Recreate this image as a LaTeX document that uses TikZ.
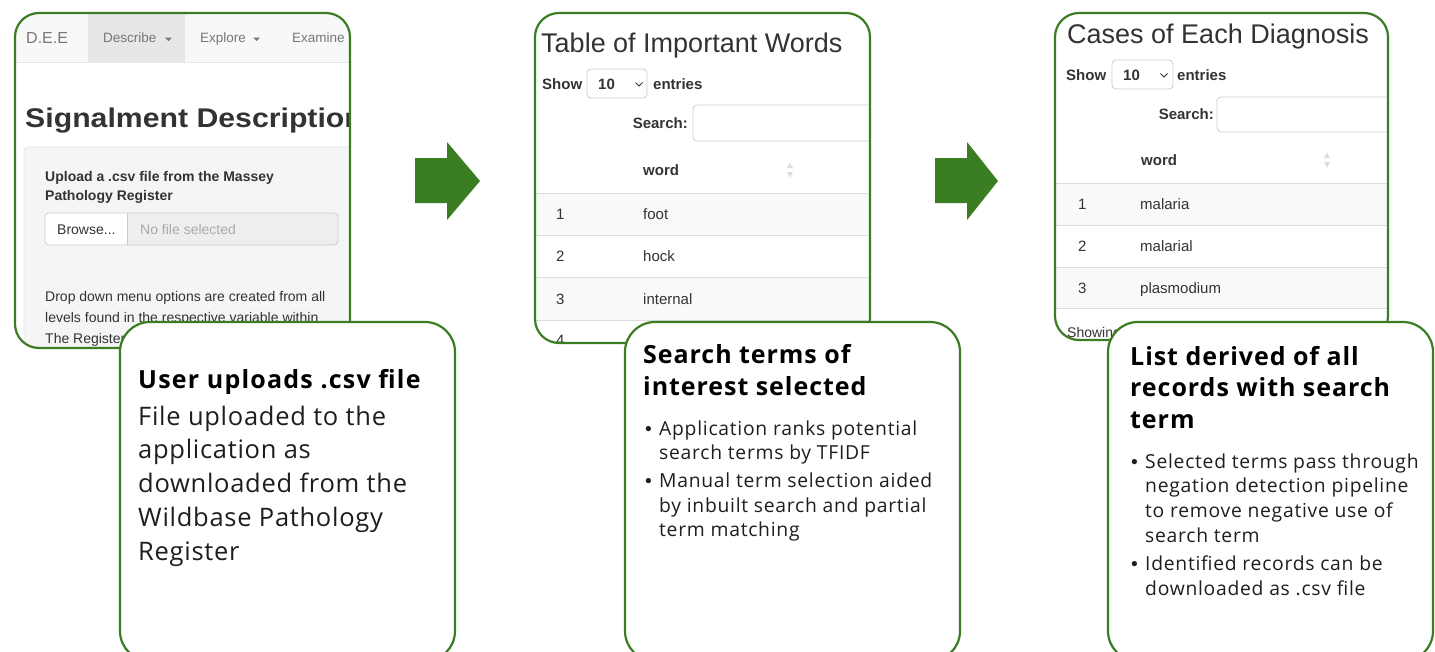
\documentclass[tikz,border=0pt]{standalone}
\usepackage{fontspec}
\setmainfont{Open Sans}
\newfontfamily\uifont{Liberation Sans}

\definecolor{grn}{HTML}{3B7D23}
\definecolor{ink}{HTML}{333333}
\definecolor{navtxt}{HTML}{777777}
\definecolor{navbg}{HTML}{F8F8F8}
\definecolor{tabbg}{HTML}{E7E7E7}
\definecolor{wellbg}{HTML}{F5F5F5}
\definecolor{wellline}{HTML}{E6E6E6}
\definecolor{inputbg}{HTML}{EEEEEE}
\definecolor{ctrlline}{HTML}{CCCCCC}
\definecolor{rowbg}{HTML}{F9F9F9}
\definecolor{rowline}{HTML}{DDDDDD}
\definecolor{hint}{HTML}{AAAAAA}
\definecolor{body}{HTML}{1E1E1E}

% font size in px with explicit leading
\newcommand\fsz[2]{\fontsize{#1}{#2}\selectfont}
% tracking for the card texts
\newcommand\track[1]{\addfontfeature{LetterSpace=#1}}
% bullet item with hanging indent; lines inside are split with \newline
\newcommand\bitem[1]{\par\noindent\hangindent=14pt\hangafter=1%
  \makebox[14pt][l]{{\uifont\textbullet}}#1\par}

\begin{document}
\begin{tikzpicture}[x=1pt,y=-1pt,
  frame/.style={draw=grn, line width=2.2pt, rounded corners=24pt},
  card/.style={draw=grn, fill=white, line width=2.2pt, rounded corners=30pt},
  ui/.style={inner sep=0pt, anchor=base west, text=ink, font=\uifont\fsz{14}{16}},
  uib/.style={ui, font=\uifont\bfseries\fsz{15}{17}},
  txt/.style={inner sep=0pt, anchor=base west, text=body},
  ctrl/.style={draw=ctrlline, line width=0.8pt, rounded corners=4pt},
  rowsep/.style={draw=rowline, line width=0.8pt},
  bigarrow/.style={fill=grn}
]
\useasboundingbox (0,0) rectangle (1435,651);
\fill[white] (0,0) rectangle (1435,651);

% ---------------- screenshot 1: upload page ----------------
\begin{scope}
  \clip[rounded corners=24pt] (15,13) rectangle (350,348);
  \fill[white] (15,13) rectangle (350,348);
  \fill[navbg] (15,13) rectangle (350,62);
  \fill[tabbg] (88,13) rectangle (185,62);
  \draw[tabbg, line width=0.8pt] (15,62) -- (350,62);
  \node[ui, text=navtxt, font=\uifont\fsz{16}{18}] (dee) at (26,43) {D.E.E};
  \node[ui, text=navtxt, font=\uifont\fsz{13.5}{16}] (desc) at (103,42) {Describe};
  \fill[navtxt] (165,37.5) -- (172,37.5) -- (168.5,41) -- cycle;
  \node[ui, text=navtxt, font=\uifont\fsz{13.5}{16}] (expl) at (200,42) {Explore};
  \fill[navtxt] (253,37.5) -- (260,37.5) -- (256.5,41) -- cycle;
  \node[ui, text=navtxt, font=\uifont\fsz{13.5}{16}] (exam) at (292,42) {Examine};
  \node[ui, font=\uifont\bfseries\fsz{27}{30}] (sig) at (25,127)
    {\scalebox{1.12}[1]{Signalment Description}};
  \filldraw[fill=wellbg, draw=wellline, line width=0.8pt, rounded corners=4pt]
    (24,147) rectangle (380,420);
  \node[ui, font=\uifont\bfseries\fsz{14}{16}] (up1) at (45,181) {Upload a .csv file from the Massey};
  \node[ui, font=\uifont\bfseries\fsz{14}{16}] (up2) at (45,200) {Pathology Register};
  \begin{scope}
    \clip[rounded corners=4pt] (45,213) rectangle (338,245);
    \fill[inputbg] (45,213) rectangle (338,245);
    \fill[white] (45,213) rectangle (127,245);
  \end{scope}
  \draw[ctrl] (45,213) rectangle (338,245);
  \draw[ctrlline, line width=0.8pt] (127,213) -- (127,245);
  \node[ui] (browse) at (57,234) {Browse...};
  \node[ui, text=hint] (nofile) at (140,234) {No file selected};
  \node[ui] (drop1) at (45,301) {Drop down menu options are created from all};
  \node[ui] (drop2) at (45,322) {levels found in the respective variable within};
  \node[ui] (drop3) at (45,343) {The Register};
\end{scope}
\draw[frame] (15,13) rectangle (350,348);

% ---------------- screenshot 2: important words ----------------
\begin{scope}
  \clip[rounded corners=24pt] (535,13) rectangle (870,343);
  \fill[white] (535,13) rectangle (870,343);
  \node[ui, font=\uifont\fsz{27}{30}] (t2) at (541,52) {Table of Important Words};
  \node[uib] (show2) at (542,89) {Show};
  \draw[ctrl] (587,69) rectangle (647,98);
  \node[uib] (ten2) at (598,89) {10};
  \draw[ink, line width=0.8pt] (635.5,82.5) -- (639,86) -- (642.5,82.5);
  \node[uib] (ent2) at (653,89) {entries};
  \node[uib, anchor=base east] (srch2) at (688,128) {Search:};
  \draw[ctrl] (693,105) rectangle (910,141);
  \node[uib] (word2) at (643,175) {word};
  \fill[rowline] (787,168) -- (793,168) -- (790,162.5) -- cycle;
  \fill[rowline] (787,172) -- (793,172) -- (790,177.5) -- cycle;
  \fill[rowbg] (535,193) rectangle (870,235);
  \fill[rowbg] (535,277) rectangle (870,320);
  \draw[rowsep] (535,193) -- (870,193);
  \draw[rowsep] (535,235) -- (870,235);
  \draw[rowsep] (535,277) -- (870,277);
  \draw[rowsep] (535,320) -- (870,320);
  \node[ui, font=\uifont\fsz{15}{17}] (n21) at (556,219.5) {1};
  \node[ui, font=\uifont\fsz{15}{17}] (w21) at (643,219.5) {foot};
  \node[ui, font=\uifont\fsz{15}{17}] (n22) at (556,261.5) {2};
  \node[ui, font=\uifont\fsz{15}{17}] (w22) at (643,261.5) {hock};
  \node[ui, font=\uifont\fsz{15}{17}] (n23) at (556,304) {3};
  \node[ui, font=\uifont\fsz{15}{17}] (w23) at (643,304) {internal};
  \node[ui, font=\uifont\fsz{15}{17}] (n24) at (556,345) {4};
\end{scope}
\draw[frame] (535,13) rectangle (870,343);

% ---------------- screenshot 3: diagnosis cases ----------------
\begin{scope}
  \clip[rounded corners=24pt] (1055,13) rectangle (1388,340);
  \fill[white] (1055,13) rectangle (1388,340);
  \node[ui, font=\uifont\fsz{27}{30}] (t3) at (1067,43) {Cases of Each Diagnosis};
  \node[uib] (show3) at (1066,80) {Show};
  \draw[ctrl] (1112,60) rectangle (1173,89);
  \node[uib] (ten3) at (1123,80) {10};
  \draw[ink, line width=0.8pt] (1160.5,73.5) -- (1164,77) -- (1167.5,73.5);
  \node[uib] (ent3) at (1177,80) {entries};
  \node[uib, anchor=base east] (srch3) at (1214,119) {Search:};
  \draw[ctrl] (1217,97) rectangle (1430,132);
  \node[uib] (word3) at (1141,165) {word};
  \fill[rowline] (1324,158) -- (1330,158) -- (1327,152.5) -- cycle;
  \fill[rowline] (1324,162) -- (1330,162) -- (1327,167.5) -- cycle;
  \fill[rowbg] (1055,183) rectangle (1388,225);
  \fill[rowbg] (1055,267) rectangle (1388,308);
  \draw[rowsep] (1055,183) -- (1388,183);
  \draw[rowsep] (1055,225) -- (1388,225);
  \draw[rowsep] (1055,267) -- (1388,267);
  \draw[rowsep] (1055,308) -- (1388,308);
  \node[ui, font=\uifont\fsz{15}{17}] (n31) at (1078,209.5) {1};
  \node[ui, font=\uifont\fsz{15}{17}] (w31) at (1140,209.5) {malaria};
  \node[ui, font=\uifont\fsz{15}{17}] (n32) at (1078,251.5) {2};
  \node[ui, font=\uifont\fsz{15}{17}] (w32) at (1140,251.5) {malarial};
  \node[ui, font=\uifont\fsz{15}{17}] (n33) at (1078,293) {3};
  \node[ui, font=\uifont\fsz{15}{17}] (w33) at (1140,293) {plasmodium};
  \node[ui, font=\uifont\fsz{14}{16}] (showing) at (1067,337) {Showing};
\end{scope}
\draw[frame] (1055,13) rectangle (1388,340);

% ---------------- step arrows ----------------
\fill[bigarrow] (415,158) -- (447,158) -- (447,142) -- (480,181)
  -- (447,220) -- (447,203) -- (415,203) -- cycle;
\fill[bigarrow] (935,158) -- (967,158) -- (967,142) -- (998,181)
  -- (967,220) -- (967,203) -- (935,203) -- cycle;

% ---------------- description cards ----------------
\draw[card] (120,322) rectangle (455,661);
\draw[card] (625,322) rectangle (960,661);
\draw[card] (1108,322) rectangle (1433,661);

\node[txt, text=black] (c1title) at (138,388)
  {\bfseries\fsz{25}{30}\track{4.8}User uploads .csv file};
\node[txt] (c1body) at (138,425) {\parbox[t]{310pt}{\raggedright\fsz{25.5}{33.75}\track{2.8}%
  File uploaded to the\\ application as\\ downloaded from the\\
  Wildbase Pathology\\ Register}};

\node[txt, text=black] (c2title) at (643,363) {\parbox[t]{310pt}{\raggedright
  \bfseries\fsz{25}{32}\track{3.8}Search terms of\\ interest selected}};
\node[txt] (c2list) at (645,435) {\parbox[t]{310pt}{\raggedright\fsz{19.3}{24.6}\track{3.8}%
  \bitem{Application ranks potential\newline search terms by TFIDF}\vspace{3.5pt}
  \bitem{Manual term selection aided\newline by inbuilt search and partial\newline term matching}}};

\node[txt, text=black] (c3title) at (1130,365) {\parbox[t]{300pt}{\raggedright
  \bfseries\fsz{25}{31.5}\track{3.8}List derived of all\\ records with search\\ term}};
\node[txt] (c3list) at (1131,468) {\parbox[t]{300pt}{\raggedright\fsz{19.3}{24.8}\track{3.8}%
  \bitem{Selected terms pass through\newline negation detection pipeline\newline
    to remove negative use of\newline search term}\vspace{3.5pt}
  \bitem{Identified records can be\newline downloaded as .csv file}}};

\end{tikzpicture}
\end{document}
